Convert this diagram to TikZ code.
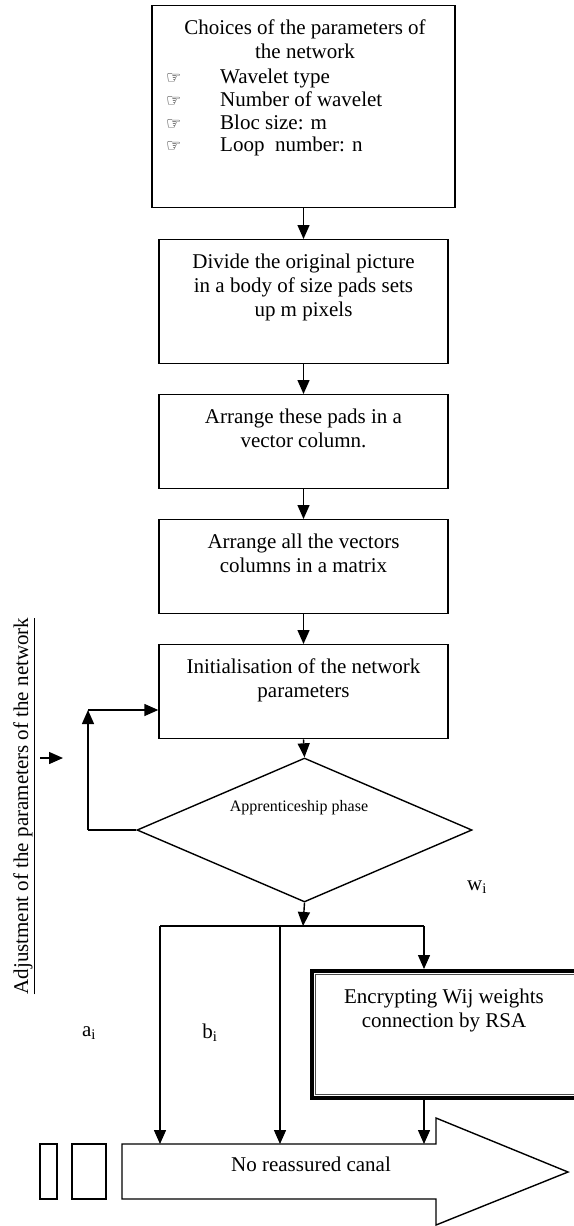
\documentclass[tikz,border=0pt]{standalone}
\usepackage{fontspec}
\setmainfont{Liberation Serif}
\newfontfamily\handfont{DejaVu Sans}
\usetikzlibrary{arrows.meta,shapes.geometric,positioning}

\newcommand\handmark{{\handfont\fontsize{17}{17}\selectfont ☞}}

\tikzset{
  procbox/.style={draw, line width=1.4pt, minimum width=289pt, inner sep=0pt, anchor=north},
  boxtext/.style={align=center, font=\fontsize{21}{24}\selectfont, inner sep=0pt, anchor=north},
  itemtext/.style={align=left, font=\fontsize{21}{22.7}\selectfont, inner sep=0pt, anchor=north west},
  flow/.style={line width=1.4pt, -{Triangle[length=14pt,width=12pt]}},
  plain/.style={line width=1.4pt},
  sublabel/.style={font=\fontsize{21}{24}\selectfont, inner sep=0pt},
}

\begin{document}
\begin{tikzpicture}[x=1pt, y=-1pt]
    \useasboundingbox (0,0) rectangle (573,1226);

    % Chain of boxes
    \node[procbox, minimum width=303pt, minimum height=202pt] (choice) at (303.5,5) {};
    \node[boxtext] (choicetxt) at (305,20) {Choices of the parameters of\\the network};
    \node[itemtext] (choicelist) at (166,69) {%
        \makebox[54pt][l]{\handmark}Wavelet type\\
        \makebox[54pt][l]{\handmark}Number of wavelet\\
        \makebox[54pt][l]{\handmark}Bloc size: m\\
        \makebox[54pt][l]{\handmark}Loop~ number: n};

    \node[procbox, minimum height=124pt] (divide) at (303.5,239) {};
    \node[boxtext] (dividetxt) at (303.5,254) {Divide the original picture\\in a body of size pads sets\\up m pixels};

    \node[procbox, minimum height=94pt] (pads) at (303.5,394) {};
    \node[boxtext] (padstxt) at (303.5,409) {Arrange these pads in a\\vector column.};

    \node[procbox, minimum height=94pt] (matrix) at (303.5,519) {};
    \node[boxtext] (matrixtxt) at (303.5,534) {Arrange all the vectors\\columns in a matrix};

    \node[procbox, minimum height=94pt] (init) at (303.5,644) {};
    \node[boxtext] (inittxt) at (303.5,659) {Initialisation of the network\\parameters};

    \draw[flow] (choice.south) -- (divide.north);
    \draw[flow] (divide.south) -- (pads.north);
    \draw[flow] (pads.south) -- (matrix.north);
    \draw[flow] (matrix.south) -- (init.north);

    % Decision
    \node[draw, diamond, line width=1.4pt, minimum width=335pt, minimum height=144pt, inner sep=0pt] (appr) at (304.5,830) {};
    \node[font=\fontsize{16}{18}\selectfont, inner sep=0pt] (apprtxt) at (299,808) {Apprenticeship phase};
    \draw[flow] (init.south) -- (appr.north);

    % Feedback loop
    \coordinate (loopbot) at (88,830);
    \coordinate (looptop) at (88,710);
    \draw[plain] (appr.west) -- (loopbot);
    \draw[flow] (loopbot) -- (looptop);
    \draw[flow] (looptop) -- (looptop -| init.west);

    \node[sublabel, rotate=90] (adjust) at (24,806) {\underline{Adjustment of the parameters of the network}};
    \coordinate (adjstart) at (40,758);
    \coordinate (adjend) at (63,758);
    \draw[flow] (adjstart) -- (adjend);

    % Outputs
    \coordinate (split) at (303,926);
    \coordinate (splitl) at (160,926);
    \coordinate (splitm) at (280,926);
    \coordinate (splitr) at (424,926);
    \draw[flow] (appr.south) -- (split);
    \draw[plain] (splitl) -- (splitr);

    \node[draw, line width=3.5pt, minimum width=267pt, minimum height=127pt, inner sep=0pt, anchor=north west] (encrypt) at (310,969) {};
    \draw[gray!60!black, line width=0.9pt] ([shift={(5,5)}]encrypt.north west) rectangle ([shift={(-5,-5)}]encrypt.south east);
    \node[boxtext] (encrypttxt) at (444,989) {Encrypting Wij weights\\connection by RSA};

    % Channel
    \coordinate (canaltop) at (122,1144);
    \draw[plain] (canaltop) -- (436,1144) -- (436,1118) -- (568,1172) -- (436,1225) -- (436,1199) -- (122,1199) -- cycle;
    \node[sublabel] (canal) at (311,1164) {No reassured canal};
    \draw[plain] (40,1144) rectangle (57,1199);
    \draw[plain] (72,1144) rectangle (106,1199);

    \draw[flow] (splitl) -- (splitl |- canaltop);
    \draw[flow] (splitm) -- (splitm |- canaltop);
    \draw[flow] (splitr) -- (splitr |- encrypt.north);
    \draw[flow] (splitr |- encrypt.south) -- (splitr |- canaltop);

    % Labels
    \node[sublabel] (wlab) at (477,887) {w\textsubscript{i}};
    \node[sublabel] (alab) at (89,1033) {a\textsubscript{i}};
    \node[sublabel] (blab) at (210,1033) {b\textsubscript{i}};
\end{tikzpicture}
\end{document}
